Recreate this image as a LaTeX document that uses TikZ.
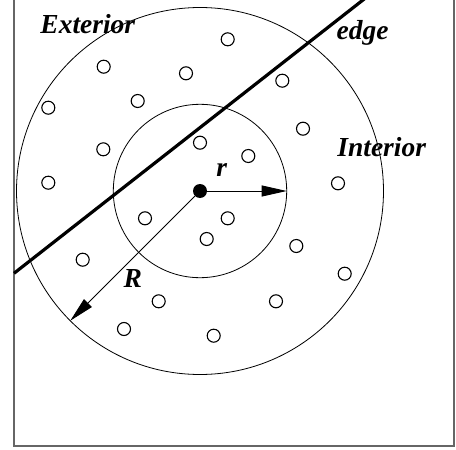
\documentclass[tikz,border=0pt]{standalone}
\usepackage{fontspec}
\setmainfont{Liberation Serif}
\usetikzlibrary{arrows.meta}
\begin{document}
\begin{tikzpicture}[x=1pt,y=-1pt,
  lbl/.style={font=\fontsize{27.5}{32}\selectfont\bfseries\itshape, inner sep=0pt, anchor=base},
  pt/.style={draw, circle, line width=1.1pt, inner sep=0pt, minimum size=13pt},
  tip/.style={-{Triangle[length=25pt,width=11pt]}, line width=0.9pt}]
\useasboundingbox (0,0) rectangle (456,450);
\clip (0,0) rectangle (456,450);
\draw[gray!80!black, line width=1.6pt] (14,-5) -- (14,446) -- (454,446) -- (454,-5);
\coordinate (O) at (200,191);
\draw[line width=0.8pt] (O) circle[radius=183.5];
\draw[line width=0.8pt] (O) circle[radius=86.7];
\foreach \x/\y [count=\i] in {227.7/39.3, 103.7/66.7, 186/73.3, 282.3/80.7, 48.3/107.7, 137.7/101,
  303/128.7, 103.3/149.3, 200/142.7, 248.3/156, 48.3/182.7, 338/183.3, 145/218.3, 227.7/218.3,
  206.7/239, 296.3/246, 82.7/259.7, 344.7/273.7, 158.7/301.3, 276/301.3, 124/329, 213.7/335.7}
  \node[pt] (p\i) at (\x,\y) {};
\coordinate (e1) at (14,273.3);
\coordinate (e2) at (377,-11);
\draw[line width=3.2pt] (e1) -- (e2);
\node[circle, fill, inner sep=0pt, minimum size=14pt] (c) at (O) {};
\coordinate (rt) at (286.7,191);
\coordinate (Rt) at (70.3,320.7);
\draw[tip] (c) -- (rt);
\draw[tip] (c) -- (Rt);
\node[lbl] (ext) at (87.8,33.3) {Exterior};
\node[lbl] (edg) at (362.5,39.3) {edge};
\node[lbl] (int) at (381.7,156.7) {Interior};
\node[lbl] (r) at (221.7,176.7) {r};
\node[lbl] (R) at (132.8,287.7) {R};
\end{tikzpicture}
\end{document}
